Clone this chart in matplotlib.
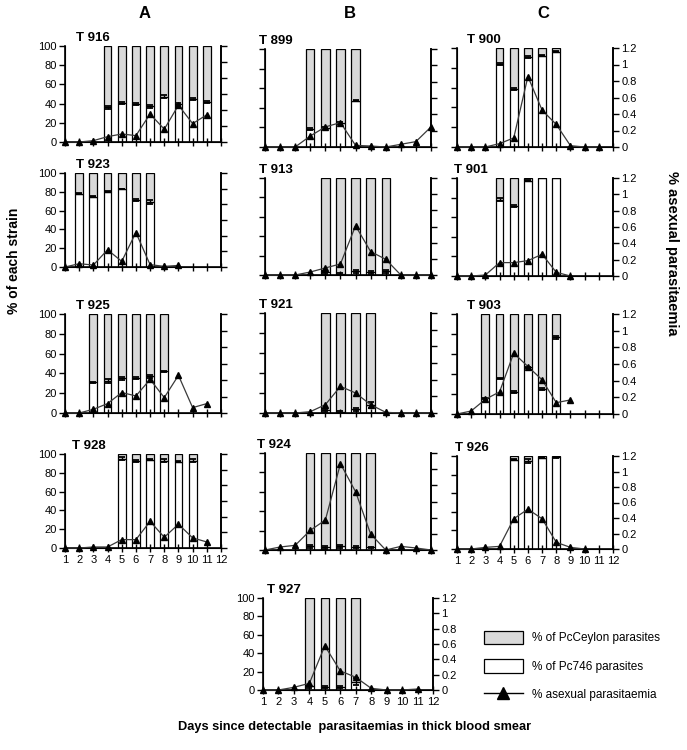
import matplotlib.pyplot as plt
from matplotlib.lines import Line2D
from matplotlib.patches import Patch

plt.rcParams['font.family'] = ['Liberation Sans', 'DejaVu Sans']

W, H = 687, 750

days = list(range(1, 13))
left_ticks = [0, 20, 40, 60, 80, 100]
right_ticks = [0, 0.2, 0.4, 0.6, 0.8, 1.0, 1.2]
right_labels = ["0", "0.2", "0.4", "0.6", "0.8", "1", "1.2"]

# bar days, % Pc746 (rest is PcCeylon), error, % asexual parasitaemia from day 1
t916_bar_days = [4, 5, 6, 7, 8, 9, 10, 11]
t916_pc746 = [36, 41, 40, 37, 47, 40, 45, 42]
t916_err = [1.5, 1, 1, 2, 1.5, 1, 1, 1]
t916_para = [0, 0, 0.017, 0.067, 0.10, 0.08, 0.35, 0.16, 0.46, 0.23, 0.34]

t923_bar_days = [2, 3, 4, 5, 6, 7]
t923_pc746 = [78, 75, 80, 83, 71, 69]
t923_err = [0.5, 0.5, 0.5, 0.5, 1, 2]
t923_para = [0, 0.042, 0.025, 0.22, 0.072, 0.44, 0.03, 0.008, 0.02]

t925_bar_days = [3, 4, 5, 6, 7, 8]
t925_pc746 = [31, 32, 35, 35, 37, 42]
t925_err = [0.5, 2, 1.5, 1, 1.5, 0.5]
t925_para = [0, 0, 0.045, 0.114, 0.248, 0.207, 0.407, 0.187, 0.456, 0.065, 0.114]

t928_bar_days = [5, 6, 7, 8, 9, 10]
t928_pc746 = [95, 93, 94, 93, 92, 93]
t928_err = [1.5, 1, 0.5, 1.5, 1, 1.5]
t928_para = [0, 0, 0.013, 0.013, 0.107, 0.107, 0.34, 0.137, 0.304, 0.129, 0.077]

t899_bar_days = [4, 5, 6, 7]
t899_pc746 = [18, 19, 24, 47]
t899_err = [1, 1, 1, 0.5]
t899_para = [0, 0, 0, 0.135, 0.246, 0.299, 0.02, 0.012, 0, 0.033, 0.066, 0.246]

t913_bar_days = [5, 6, 7, 8, 9]
t913_pc746 = [3, 1, 4, 3, 4]
t913_err = [1.5, 1, 1.5, 1.5, 1.5]
t913_para = [0, 0, 0, 0.037, 0.087, 0.137, 0.608, 0.29, 0.194, 0, 0, 0]

t921_bar_days = [5, 6, 7, 8]
t921_pc746 = [3, 1, 4, 8]
t921_err = [1.5, 1, 1.5, 3]
t921_para = [0, 0, 0, 0.016, 0.10, 0.32, 0.24, 0.10, 0.008, 0, 0, 0]

t924_bar_days = [4, 5, 6, 7, 8]
t924_pc746 = [4, 3, 4, 3, 3]
t924_err = [1.5, 1.5, 1.5, 1, 0.5]
t924_para = [0, 0.037, 0.058, 0.243, 0.371, 1.068, 0.722, 0.198, 0, 0.045, 0.025, 0]

t927_bar_days = [4, 5, 6, 7]
t927_pc746 = [4, 3, 3, 9]
t927_err = [1.5, 1, 1, 4]
t927_para = [0, 0, 0.035, 0.087, 0.576, 0.249, 0.166, 0.022, 0, 0, 0.013]

t900_bar_days = [4, 5, 6, 7, 8]
t900_pc746 = [84, 59, 91, 92, 96]
t900_err = [1, 1, 1, 0.5, 0.5]
t900_para = [0, 0, 0, 0.041, 0.11, 0.854, 0.447, 0.273, 0.016, 0, 0]

t901_bar_days = [4, 5, 6, 7, 8]
t901_pc746 = [78, 71, 97, 100, 100]
t901_err = [1.5, 1, 0.5, 0, 0]
t901_para = [0, 0, 0.012, 0.164, 0.164, 0.188, 0.266, 0.045, 0]

t903_bar_days = [3, 4, 5, 6, 7, 8]
t903_pc746 = [16, 36, 22, 47, 25, 77]
t903_err = [0.5, 0.5, 1, 0.5, 1, 1.5]
t903_para = [0, 0.036, 0.177, 0.265, 0.73, 0.57, 0.41, 0.136, 0.169]

t926_bar_days = [5, 6, 7, 8]
t926_pc746 = [96, 95, 98, 99]
t926_err = [0.5, 2, 0.5, 1]
t926_para = [0, 0, 0.021, 0.034, 0.39, 0.514, 0.39, 0.086, 0.021, 0]

# name, data, pixel box (left, top, right, bottom), left labels, right labels, x labels, title offset
panels = [
    ("T 916", t916_bar_days, t916_pc746, t916_err, t916_para, (65, 46, 221, 142), True, False, False, 11),
    ("T 923", t923_bar_days, t923_pc746, t923_err, t923_para, (65, 173, 221, 267), True, False, False, 11),
    ("T 925", t925_bar_days, t925_pc746, t925_err, t925_para, (65, 314, 221, 413), True, False, False, 11),
    ("T 928", t928_bar_days, t928_pc746, t928_err, t928_para, (65, 454, 221, 548), True, False, True, 7),
    ("T 899", t899_bar_days, t899_pc746, t899_err, t899_para, (265, 49, 431, 147), False, False, False, -6),
    ("T 913", t913_bar_days, t913_pc746, t913_err, t913_para, (265, 178, 431, 275), False, False, False, -6),
    ("T 921", t921_bar_days, t921_pc746, t921_err, t921_para, (265, 313, 431, 413), False, False, False, -6),
    ("T 924", t924_bar_days, t924_pc746, t924_err, t924_para, (265, 453, 431, 550), False, False, False, -8),
    ("T 927", t927_bar_days, t927_pc746, t927_err, t927_para, (263, 598, 433, 690), True, True, True, 4),
    ("T 900", t900_bar_days, t900_pc746, t900_err, t900_para, (457, 48, 613, 147), False, True, False, 10),
    ("T 901", t901_bar_days, t901_pc746, t901_err, t901_para, (457, 178, 613, 276), False, True, False, -3),
    ("T 903", t903_bar_days, t903_pc746, t903_err, t903_para, (457, 314, 613, 414), False, True, False, 10),
    ("T 926", t926_bar_days, t926_pc746, t926_err, t926_para, (457, 456, 613, 549), False, True, True, -2),
]

GREY = "#d9d9d9"
LINE = "#3a3a3a"

fig = plt.figure(figsize=(W / 100, H / 100), dpi=100)

for name, bar_days, pc746, err, para, box, lab_l, lab_r, lab_x, dx in panels:
    l, t, r, b = box
    ax = fig.add_axes([l / W, 1 - b / H, (r - l) / W, (b - t) / H])
    ceylon = [100 - v for v in pc746]
    ax.bar(bar_days, pc746, width=0.55, color="white", edgecolor="black", linewidth=0.9)
    ax.bar(bar_days, ceylon, bottom=pc746, width=0.55, color=GREY,
           edgecolor="black", linewidth=0.9)
    ax.errorbar(bar_days, pc746, yerr=err, fmt="none", ecolor="black",
                elinewidth=1, capsize=2.5, capthick=1.3)
    ax.set_xlim(1, 12)
    ax.set_ylim(0, 100)
    ax.set_xticks(days)
    ax.set_yticks(left_ticks)
    ax.spines["top"].set_visible(False)
    for s in ("left", "bottom", "right"):
        ax.spines[s].set_linewidth(1.2)
    ax.tick_params(axis="x", direction="inout", length=6, width=1, labelsize=8,
                   labelbottom=lab_x, pad=2)
    ax.tick_params(axis="y", direction="out", length=4, width=1, labelsize=8,
                   labelleft=lab_l, pad=2)

    ax2 = ax.twinx()
    ax2.plot(days[:len(para)], para, color=LINE, linewidth=0.9, marker="^",
             markersize=3.8, markerfacecolor="black", markeredgecolor="black",
             clip_on=False, zorder=5)
    ax2.set_ylim(0, 1.2)
    ax2.set_yticks(right_ticks)
    ax2.set_yticklabels(right_labels)
    ax2.spines["top"].set_visible(False)
    ax2.spines["right"].set_linewidth(1.2)
    ax2.tick_params(axis="y", direction="out", length=4, width=1, labelsize=8,
                    labelright=lab_r, pad=2)

    fig.text((l + dx) / W, 1 - (t - 2) / H, name, fontsize=9.5, fontweight="bold",
             ha="left", va="bottom")

# column headers
for letter, xc in [("A", 145), ("B", 350), ("C", 543)]:
    fig.text(xc / W, 1 - 14 / H, letter, fontsize=12, fontweight="bold",
             ha="center", va="center")

fig.text(14 / W, 1 - 261 / H, "% of each strain", rotation=90, fontsize=10,
         fontweight="bold", ha="center", va="center")
fig.text(672 / W, 1 - 253 / H, "% asexual parasitaemia", rotation=270, fontsize=10.5,
         fontweight="bold", ha="center", va="center")
fig.text(355 / W, 1 - 727 / H, "Days since detectable  parasitaemias in thick blood smear",
         fontsize=9.2, fontweight="bold", ha="center", va="center")

handles = [
    Patch(facecolor=GREY, edgecolor="black", linewidth=0.9),
    Patch(facecolor="white", edgecolor="black", linewidth=0.9),
    Line2D([], [], color="black", linewidth=1, marker="^", markersize=8,
           markerfacecolor="black"),
]
labels = ["% of PcCeylon parasites", "% of Pc746 parasites", "% asexual parasitaemia"]
fig.legend(handles, labels, loc="upper left", bbox_to_anchor=(479 / W, 1 - 626 / H),
           frameon=False, fontsize=8.5, handlelength=3.3, handleheight=1.4,
           labelspacing=1.25, handletextpad=0.8, borderaxespad=0)

fig.savefig("out.png", dpi=100)
